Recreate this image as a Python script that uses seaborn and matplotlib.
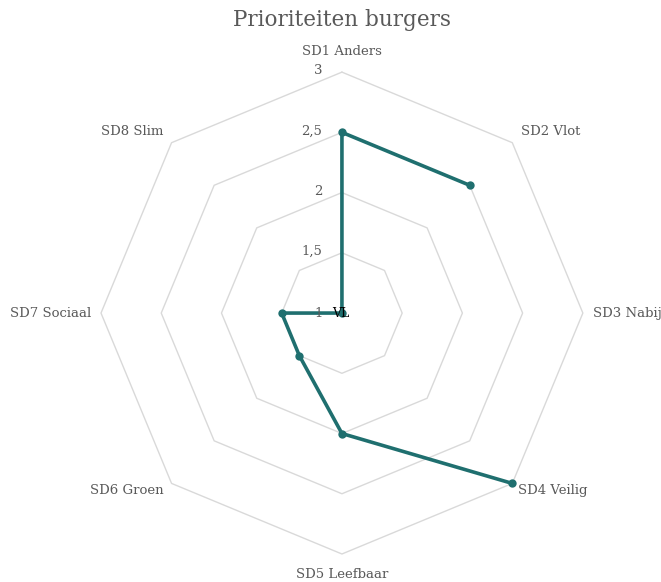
"""
Radar chart: Prioriteiten burgers.
"""

import numpy as np
import pandas as pd
import matplotlib
matplotlib.use("Agg")
import matplotlib.pyplot as plt
import seaborn as sns

# Data (SD3 has no value -> gap in the line)
categories = [
    "SD1 Anders", "SD2 Vlot", "SD3 Nabij", "SD4 Veilig",
    "SD5 Leefbaar", "SD6 Groen", "SD7 Sociaal", "SD8 Slim",
]
values = [2.5, 2.5, np.nan, 3.0, 2.0, 1.5, 1.5, 1.0]
grid_levels = [1.5, 2.0, 2.5, 3.0]
tick_values = [1.0, 1.5, 2.0, 2.5, 3.0]
tick_labels = ["1", "1,5", "2", "2,5", "3"]
series_name = "VL"

sns.set_theme(style="white")
plt.rcParams["font.family"] = ["DejaVu Serif"]

text_grey = "#595959"
line_teal = "#1F6F6F"
grid_grey = "#D9D9D9"

n = len(categories)
angles = np.arange(n) * 2 * np.pi / n

# walk the series starting after the gap so one line covers it
order = [3, 4, 5, 6, 7, 0, 1]
df = pd.DataFrame({
    "angle": [angles[i] for i in order],
    "value": [values[i] for i in order],
})

fig = plt.figure(figsize=(6.61, 5.82), dpi=100)
ax = fig.add_axes([0.1528, 0.0481, 0.729, 0.828], projection="polar")
ax.set_theta_zero_location("N")
ax.set_theta_direction(-1)
ax.set_ylim(1, 3)

# octagon grid
closed = list(angles) + [angles[0]]
for lvl in grid_levels:
    ax.plot(closed, [lvl] * (n + 1), color=grid_grey, lw=1, zorder=1,
            clip_on=False)

ax.grid(False)
ax.spines["polar"].set_visible(False)
ax.set_xticks([])
ax.set_yticks([])

sns.lineplot(
    data=df, x="angle", y="value", sort=False, estimator=None,
    color=line_teal, lw=2.6, marker="o", markersize=6,
    markeredgewidth=0, ax=ax, zorder=3, legend=False,
)
ax.lines[-1].set_clip_on(False)
ax.set_xlabel("")
ax.set_ylabel("")

# radial tick labels
for v, lab in zip(tick_values, tick_labels):
    ax.annotate(
        lab, xy=(0, v), xytext=(-14, 1 if v > 1 else 0),
        textcoords="offset points", ha="right", va="center",
        fontsize=9.5, color=text_grey,
    )

# series label at the centre
ax.annotate(
    series_name, xy=(0, 1), xytext=(-7, 0), textcoords="offset points",
    ha="left", va="center", fontsize=9, color="#000000",
)

# category labels
align = [
    ("center", "bottom", 0, 10),
    ("left", "center", 6, 8),
    ("left", "center", 7, 0),
    ("left", "center", 4, -5),
    ("center", "top", 0, -10),
    ("right", "center", -6, -5),
    ("right", "center", -7, 0),
    ("right", "center", -6, 8),
]
for a, lab, (ha, va, dx, dy) in zip(angles, categories, align):
    ax.annotate(
        lab, xy=(a, 3), xytext=(dx, dy), textcoords="offset points",
        ha=ha, va=va, fontsize=9.5, color=text_grey,
    )

fig.text(0.5174, 0.966, "Prioriteiten burgers", ha="center", va="center",
         fontsize=15.5, color=text_grey)

fig.savefig("out.png", dpi=100)
plt.close(fig)
